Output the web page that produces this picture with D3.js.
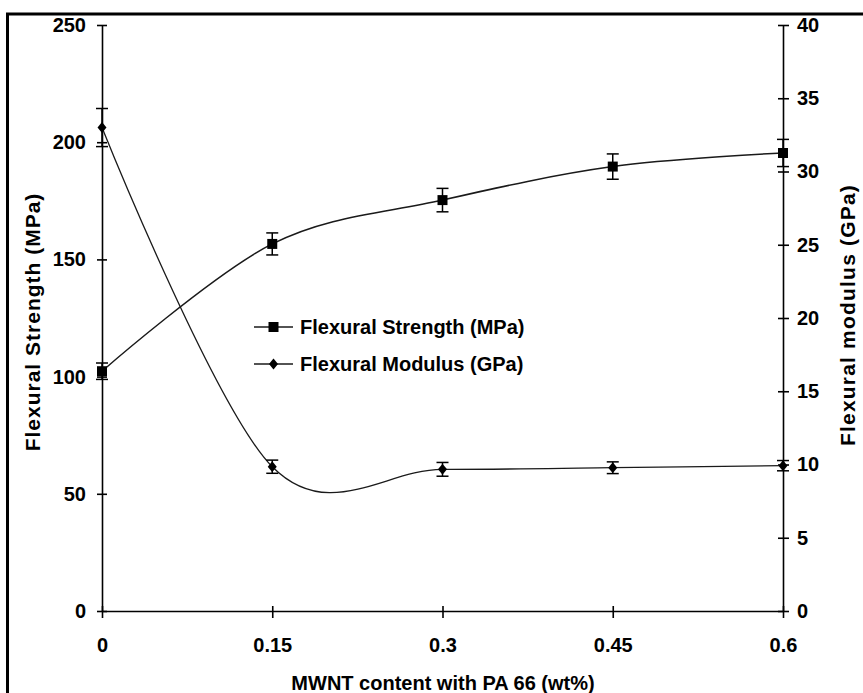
<!DOCTYPE html>
<html>
<head>
<meta charset="utf-8">
<script src="https://cdn.jsdelivr.net/npm/d3@7/dist/d3.min.js"></script>
<style>
  html, body { margin: 0; padding: 0; background: #fff; }
  svg { display: block; }
  text { font-family: "Liberation Sans", Arial, sans-serif; font-weight: bold; fill: #000; }
</style>
</head>
<body>
<svg id="chart" width="863" height="693"></svg>
<script>
// ---- data ----
const categories = [0, 0.15, 0.3, 0.45, 0.6];
const xTickLabels = ["0", "0.15", "0.3", "0.45", "0.6"];
const strength = [102.3, 156.6, 175.3, 189.6, 195.4];      // MPa (left axis)
const strengthErr = [3.5, 4.7, 5.0, 5.4, 5.8];
const modulus = [33.0, 9.85, 9.67, 9.78, 9.92];             // GPa (right axis)
const modulusErr = [1.3, 0.45, 0.47, 0.40, 0.35];
const leftTicks = [0, 50, 100, 150, 200, 250];
const rightTicks = [0, 5, 10, 15, 20, 25, 30, 35, 40];
const legendLabels = ["Flexural Strength (MPa)", "Flexural Modulus (GPa)"];
const xTitle = "MWNT content with PA 66 (wt%)";
const yLeftTitle = "Flexural Strength (MPa)";
const yRightTitle = "Flexural modulus (GPa)";

// ---- layout ----
const svg = d3.select("#chart");
const plot = { left: 102, right: 783, top: 25, bottom: 611 };

const x = d3.scaleLinear().domain([0, 0.6]).range([plot.left, plot.right]);
const yL = d3.scaleLinear().domain([0, 250]).range([plot.bottom, plot.top]);
const yR = d3.scaleLinear().domain([0, 40]).range([plot.bottom, plot.top]);

// frame (top & left visible, extends beyond picture)
svg.append("rect")
  .attr("x", 7.5).attr("y", 14)
  .attr("width", 1000).attr("height", 1000)
  .attr("fill", "none").attr("stroke", "#000").attr("stroke-width", 3);

// ---- axes ----
const axisStroke = 1.6;
function styleAxis(g) {
  g.select(".domain").attr("stroke", "#000").attr("stroke-width", axisStroke);
  g.selectAll(".tick line").attr("stroke", "#000").attr("stroke-width", axisStroke);
  g.selectAll(".tick text").style("font-size", "20px");
}

const gL = svg.append("g").attr("transform", `translate(${plot.left},0)`)
  .call(d3.axisLeft(yL).tickValues(leftTicks).tickSize(5).tickSizeOuter(0).tickPadding(11));
styleAxis(gL);
gL.selectAll(".tick line").attr("x2", 5).attr("x1", -5);
gL.selectAll(".tick text").attr("x", -16);

const gR = svg.append("g").attr("transform", `translate(${plot.right},0)`)
  .call(d3.axisRight(yR).tickValues(rightTicks).tickSize(5).tickSizeOuter(0));
styleAxis(gR);
gR.selectAll(".tick line").attr("x1", -5).attr("x2", 6);
gR.selectAll(".tick text").attr("x", 14);

const gX = svg.append("g").attr("transform", `translate(0,${plot.bottom})`)
  .call(d3.axisBottom(x).tickValues(categories).tickFormat((d, i) => xTickLabels[i]).tickSize(6).tickSizeOuter(0));
styleAxis(gX);
gX.selectAll(".tick line").attr("y1", -5).attr("y2", 7);
gX.selectAll(".tick text").attr("y", 34).attr("dy", "0.35em");

// ---- axis titles ----
svg.append("text")
  .attr("transform", `translate(40,${322}) rotate(-90)`)
  .attr("text-anchor", "middle")
  .style("font-size", "21px").style("letter-spacing", "1px")
  .text(yLeftTitle);

svg.append("text")
  .attr("transform", `translate(855,${315}) rotate(-90)`)
  .attr("text-anchor", "middle")
  .style("font-size", "21px").style("letter-spacing", "1.2px")
  .text(yRightTitle);

svg.append("text")
  .attr("x", 443).attr("y", 690)
  .attr("text-anchor", "middle")
  .style("font-size", "20px")
  .text(xTitle);

// ---- series ----
const curve = d3.curveCatmullRom.alpha(0);
const lineColor = "#1a1a1a";

const strengthPts = categories.map((c, i) => ({ x: c, y: strength[i], e: strengthErr[i] }));
const modulusPts = categories.map((c, i) => ({ x: c, y: modulus[i], e: modulusErr[i] }));

svg.append("path")
  .datum(strengthPts)
  .attr("fill", "none").attr("stroke", lineColor).attr("stroke-width", 1.5)
  .attr("d", d3.line().x(d => x(d.x)).y(d => yL(d.y)).curve(curve));

svg.append("path")
  .datum(modulusPts)
  .attr("fill", "none").attr("stroke", lineColor).attr("stroke-width", 1.3)
  .attr("d", d3.line().x(d => x(d.x)).y(d => yR(d.y)).curve(curve));

// error bars
function errorBars(pts, yScale) {
  const g = svg.append("g").attr("stroke", "#000").attr("stroke-width", 1.5);
  pts.forEach(d => {
    const cx = x(d.x), y1 = yScale(d.y + d.e), y2 = yScale(d.y - d.e);
    g.append("line").attr("x1", cx).attr("x2", cx).attr("y1", y1).attr("y2", y2);
    g.append("line").attr("x1", cx - 6).attr("x2", cx + 6).attr("y1", y1).attr("y2", y1);
    g.append("line").attr("x1", cx - 6).attr("x2", cx + 6).attr("y1", y2).attr("y2", y2);
  });
}
errorBars(strengthPts, yL);
errorBars(modulusPts, yR);

// markers
const squarePath = "M-5,-5H5V5H-5Z";
const diamondPath = "M0,-5.5L4.5,0L0,5.5L-4.5,0Z";

svg.append("g").selectAll("path").data(strengthPts).join("path")
  .attr("transform", d => `translate(${x(d.x)},${yL(d.y)})`)
  .attr("d", squarePath).attr("fill", "#000");

svg.append("g").selectAll("path").data(modulusPts).join("path")
  .attr("transform", d => `translate(${x(d.x)},${yR(d.y)})`)
  .attr("d", diamondPath).attr("fill", "#000");

// ---- legend ----
const legend = svg.append("g").attr("transform", "translate(254,327)");
const markers = [squarePath, diamondPath];
legendLabels.forEach((lab, i) => {
  const g = legend.append("g").attr("transform", `translate(0,${i * 37})`);
  g.append("line").attr("x1", 0).attr("x2", 39).attr("y1", 0).attr("y2", 0)
    .attr("stroke", lineColor).attr("stroke-width", 1.5);
  g.append("path").attr("d", markers[i]).attr("transform", "translate(19.5,0)").attr("fill", "#000");
  g.append("text").attr("x", 46).attr("y", 0).attr("dy", "0.35em")
    .style("font-size", "20px").text(lab);
});
</script>
</body>
</html>
